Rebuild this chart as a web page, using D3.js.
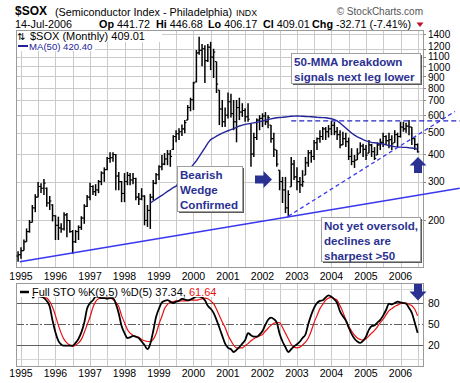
<!DOCTYPE html>
<html><head><meta charset="utf-8">
<script src="https://cdn.jsdelivr.net/npm/d3@7"></script>
<style>
body{margin:0;background:#fff;}
svg{display:block;}
text{font-family:"Liberation Sans",Arial,sans-serif;}
</style></head><body>
<svg id="c" width="460" height="383"></svg>
<script>
// ---------------- DATA ----------------
const firstMonth = "1994-12-01";   // first monthly bar
const opens = [138,
140,146,160,178,196,228,255,285,280,280,240,235,
210,190,185,183,212,200,178,160,178,186,205,232,
255,285,270,275,300,328,340,382,385,398,318,300,
265,300,320,305,310,255,250,258,200,222,255,295,
322,350,360,380,400,420,480,495,505,520,570,650,
705,850,1150,1180,1200,1060,1220,1100,1050,780,640,560,
600,690,610,560,650,620,630,590,550,400,475,570,
580,595,560,541,470,417,338,300,275,228,284,360,
315,300,290,321,365,405,390,450,470,480,520,505,
520,540,505,490,440,470,455,390,370,376,404,435,
420,404,440,410,396,440,452,480,460,465,450,490,
480,530,520,535,530,470,441.72];
const highs = [145,
151,164,184,201,235,263,299,295,308,282,258,237,
211,208,194,218,216,201,181,181,190,209,237,261,
296,289,292,305,334,348,388,408,408,400,332,302,
328,332,328,328,312,266,280,260,235,264,305,328,
356,396,404,417,417,487,513,524,545,570,667,720,
850,1185,1360,1260,1245,1260,1290,1200,1050,780,703,650,
760,750,703,703,720,680,645,680,550,500,580,600,
612,620,600,541,500,417,338,315,315,274,388,376,
348,315,338,388,417,417,463,475,513,530,530,541,
565,560,530,513,505,500,475,425,396,425,452,445,
440,463,445,430,452,470,500,487,500,487,513,500,
560,560,555,570,530,475,446.68];
const lows = [130,
134,146,160,176,196,218,255,266,261,231,223,198,
163,163,176,180,168,176,141,158,163,181,193,230,
247,261,258,266,289,299,338,365,369,274,274,242,
242,289,289,292,247,235,247,190,187,183,247,292,
305,338,356,356,350,417,452,463,483,497,570,625,
633,845,1128,1000,840,1045,960,885,756,541,530,530,
580,586,513,452,570,590,560,560,350,388,463,513,
530,541,524,450,388,350,274,240,216,207,284,305,
274,266,284,321,350,365,376,417,450,463,463,475,
487,487,463,425,439,430,376,356,346,376,404,388,
376,404,388,376,396,417,430,439,425,417,450,430,
475,505,500,487,439,417,406.17];
const closes = [140,
146,160,178,196,228,255,285,280,295,240,245,210,
190,185,183,212,200,178,160,178,186,205,232,255,
285,270,275,300,328,340,382,385,398,318,300,265,
300,320,305,310,255,250,258,200,222,255,295,322,
350,360,380,400,390,480,495,505,520,555,650,705,
840,1150,1180,1200,1060,1220,1100,1160,830,640,560,600,
690,610,560,650,620,630,590,575,400,475,570,580,
595,560,585,470,420,360,300,275,228,262,360,315,
300,290,300,365,405,390,450,470,480,520,505,520,
540,505,490,440,470,455,390,370,375,400,435,420,
395,440,410,382,440,452,480,460,465,445,490,480,
530,520,535,530,470,441.72,409.01];

const maStart = "1998-10-01";      // MA(50) first month
const ma50 = [240,245,250,
255,260,265,271,276,282,286,297,309,321,333,346,
359,373,389,408,427,448,465,473,482,490,498,504,
510,516,522,528,536,541,545,548,551,554,557,561,
565,569,573,577,581,584,586,587,589,591,593,594,
595,594,593,592,591,590,589,587,586,585,584,581,
578,573,565,553,539,525,511,498,487,479,472,465,
459,455,452,450,448,446,444,440,437,434,432,430,
430,429,429,427,426,424,420.40];

const stoKStart = "1995-05-01";
const stoK = [87,90,90,89,87,83,75,55,38,26,21,19,
19,19,19,23,29,38,52,72,80,84,89,89,
87,87,86,87,87,79,65,47,37,30,31,33,
32,30,25,20,14,22,40,60,72,81,83,84,
82,80,82,83,86,85,84,85,87,89,89,88,
84,76,72,66,56,45,33,22,16,14,10,13,
17,22,27,37,34,32,32,35,40,49,56,59,
57,52,36,25,17,10,14,18,21,25,30,35,
50,63,73,80,83,84,88,91,89,85,80,68,
61,55,45,36,29,25,23,26,32,42,47,48,
52,56,62,70,79,78,80,82,81,80,79,73,
66,52,37.34];
const stoDStart = "1995-07-01";
const stoD = [89,89,88,87,82,74,62,48,37,28,23,20,
18,20,23,28,38,49,60,74,82,86,87,87,
87,87,85,81,75,62,52,42,37,34,32,31,
28,26,25,25,28,36,50,61,72,78,81,82,
83,83,83,83,83,84,84,84,85,86,87,86,
83,79,71,62,53,45,34,26,20,16,16,16,
19,22,26,29,31,33,35,40,44,48,51,52,
52,45,37,29,21,17,16,17,20,24,30,40,
52,62,72,78,84,87,88,86,84,76,67,56,
47,40,34,30,28,27,29,33,37,41,46,52,
57,63,69,72,75,77,79,80,80,78,76,71,
61.64];

const priceTicks = [200,300,400,500,600,700,800,900,1000,1100,1200,1400];
const stoLevels = [80,50,20];
const yearLabels = ["1995","1996","1997","1998","1999","2000","2001","2002","2003","2004","2005","2006"];

const supportLine = [["1994-12-20",130],["2007-09-20",280]];
const wedgeLine   = [["2002-10-01",209],["2007-08-01",624]];
const resistLine  = [["2002-11-01",565],["2007-09-20",565]];

const notes = [
  {lines:["50-MMA breakdown","signals next leg lower"], x:291, y:53, w:129, h:30},
  {lines:["Bearish","Wedge","Confirmed"], x:177, y:166, w:65, h:45},
  {lines:["Not yet oversold,","declines are","sharpest >50"], x:321, y:217, w:99, h:44}
];

// ---------------- CHART ----------------
const parse = d3.timeParse("%Y-%m-%d");
const svg = d3.select("#c");
const L = 16, R = 423, mT = 30, mB = 267, sT = 283, sB = 366;
const NAVY = "#2b3192", MA_C = "#23239a", TL = "#3838f0";

const x = d3.scaleTime().domain([new Date(1995,0,1), new Date(2006,0,1)]).range([21, 400.5]);
const y = d3.scaleLog().domain([123,1460]).range([mB, mT]);
const ys = d3.scaleLinear().domain([-10,108.6]).range([sB, sT]);

const months = closes.map((_, i) => d3.timeMonth.offset(parse(firstMonth), i));
const gridDates = d3.timeMonth.every(6).range(new Date(1995,0,1), new Date(2006,7,1));
const r5 = v => Math.round(v) + 0.5;

function panel(top, bot) {
  svg.append("rect").attr("x", L+0.5).attr("y", top+0.5).attr("width", R-L).attr("height", bot-top)
    .attr("fill", "#fff").attr("stroke", "none");
  svg.append("g").selectAll("line").data(gridDates).join("line")
    .attr("x1", d => r5(x(d))).attr("x2", d => r5(x(d)))
    .attr("y1", top).attr("y2", bot).attr("stroke", "#cbcbcb").attr("stroke-width", 1);
}
panel(mT, mB);
panel(sT, sB);

// main horizontal grid + labels
svg.append("g").selectAll("line").data(priceTicks).join("line")
  .attr("x1", L).attr("x2", R).attr("y1", d => r5(y(d))).attr("y2", d => r5(y(d)))
  .attr("stroke", "#cbcbcb");
svg.append("g").selectAll("line").data(priceTicks).join("line")
  .attr("x1", R).attr("x2", R+3).attr("y1", d => r5(y(d))).attr("y2", d => r5(y(d)))
  .attr("stroke", "#888");
// spread crowded labels apart (layout only)
const labPos = priceTicks.map(v => ({v, p: y(v)})).sort((a, b) => a.p - b.p);
for (let it = 0; it < 80; it++) {
  for (let k = 1; k < labPos.length; k++) {
    const gap = labPos[k].p - labPos[k-1].p;
    if (gap < 10.5) { const s = (10.5 - gap) / 2; labPos[k].p += s; labPos[k-1].p -= s; }
  }
  labPos[0].p = Math.max(labPos[0].p, y(1400));
}
svg.append("g").selectAll("text").data(labPos).join("text")
  .attr("x", 428).attr("y", d => d.p).attr("dy", "0.36em")
  .attr("font-size", 10).attr("fill", "#000").text(d => d.v);

// sto horizontal lines
svg.append("g").selectAll("line").data([0,100]).join("line")
  .attr("x1", L).attr("x2", R).attr("y1", d => r5(ys(d))).attr("y2", d => r5(ys(d)))
  .attr("stroke", "#d6d6d6");
svg.append("g").selectAll("line").data(stoLevels).join("line")
  .attr("x1", L).attr("x2", R).attr("y1", d => r5(ys(d))).attr("y2", d => r5(ys(d)))
  .attr("stroke", "#606060").attr("stroke-width", 1.2)
  .attr("stroke-dasharray", d => d === 50 ? "8,2,2,2" : null);
svg.append("g").selectAll("text").data(stoLevels).join("text")
  .attr("x", 428).attr("y", d => ys(d)).attr("dy", "0.36em")
  .attr("font-size", 10.5).text(d => d);

// year labels
yearLabels.forEach(t => {
  const xx = x(new Date(+t, 0, 1));
  [280, 377].forEach(by => svg.append("text").attr("x", xx).attr("y", by)
    .attr("text-anchor", "middle").attr("font-size", 10.5).text(t));
});

// borders
[[mT,mB],[sT,sB]].forEach(([t,b]) => svg.append("rect").attr("x", L+0.5).attr("y", t+0.5)
  .attr("width", R-L).attr("height", b-t).attr("fill", "none").attr("stroke", "#9a9a9a"));

// OHLC bars
const bars = svg.append("g").attr("stroke", "#000");
months.forEach((d, i) => {
  const X = x(d);
  bars.append("line").attr("x1", X).attr("x2", X).attr("y1", y(highs[i])).attr("y2", y(lows[i]))
    .attr("stroke-width", 1.5);
  bars.append("line").attr("x1", X-1.7).attr("x2", X).attr("y1", y(opens[i])).attr("y2", y(opens[i]))
    .attr("stroke-width", 1.1);
  bars.append("line").attr("x1", X).attr("x2", X+1.7).attr("y1", y(closes[i])).attr("y2", y(closes[i]))
    .attr("stroke-width", 1.1);
});

// MA(50)
const maMonths = ma50.map((_, i) => d3.timeMonth.offset(parse(maStart), i));
svg.append("path").datum(ma50.map((v, i) => [maMonths[i], v]))
  .attr("d", d3.line().x(d => x(d[0])).y(d => y(d[1])))
  .attr("fill", "none").attr("stroke", MA_C).attr("stroke-width", 1.4);

// trend lines
const tl = d3.line().x(d => x(parse(d[0]))).y(d => y(d[1]));
svg.append("path").attr("d", tl(supportLine)).attr("stroke", TL).attr("stroke-width", 1.6).attr("fill", "none");
svg.append("path").attr("d", tl(wedgeLine)).attr("stroke", TL).attr("stroke-width", 1.3)
  .attr("stroke-dasharray", "4,3").attr("fill", "none");
svg.append("path").attr("d", tl(resistLine)).attr("stroke", "#2424c8").attr("stroke-width", 1.3)
  .attr("stroke-dasharray", "5,3").attr("fill", "none");

// STO lines
const kMonths = stoK.map((_, i) => d3.timeMonth.offset(parse(stoKStart), i));
const dMonths = stoD.map((_, i) => d3.timeMonth.offset(parse(stoDStart), i));
svg.append("path").datum(stoD.map((v, i) => [dMonths[i], v]))
  .attr("d", d3.line().x(d => x(d[0])).y(d => ys(d[1])).curve(d3.curveMonotoneX))
  .attr("fill", "none").attr("stroke", "#e81010").attr("stroke-width", 1.2);
svg.append("path").datum(stoK.map((v, i) => [kMonths[i], v]))
  .attr("d", d3.line().x(d => x(d[0])).y(d => ys(d[1])).curve(d3.curveMonotoneX))
  .attr("fill", "none").attr("stroke", "#000").attr("stroke-width", 1.8);

// annotation boxes
notes.forEach(n => {
  svg.append("rect").attr("x", n.x+2).attr("y", n.y+2).attr("width", n.w).attr("height", n.h).attr("fill", "#5a5a5a");
  svg.append("rect").attr("x", n.x+0.5).attr("y", n.y+0.5).attr("width", n.w).attr("height", n.h)
    .attr("fill", "#fff").attr("stroke", "#a0a0a0");
  n.lines.forEach((t, k) => svg.append("text").attr("x", n.x+3).attr("y", n.y + 12.5 + k*15)
    .attr("font-size", 11.6).attr("font-weight", "bold").attr("fill", NAVY).text(t));
});

// arrows
svg.append("path").attr("d", "M255,175.5H263.5V171L272,179.5L263.5,188V183.5H255Z").attr("fill", NAVY);
svg.append("path").attr("d", "M418,157L426.5,165.5H422V173H414V165.5H409.5Z").attr("fill", NAVY);
svg.append("path").attr("d", "M414,284H422V291.5H426.5L418,300.5L409.5,291.5H414Z").attr("fill", NAVY);

// legends
svg.append("rect").attr("x", 17).attr("y", 31).attr("width", 145).attr("height", 11).attr("fill", "#fff");
svg.append("rect").attr("x", 17).attr("y", 42).attr("width", 78).attr("height", 9).attr("fill", "#fff");
svg.append("text").attr("x", 17).attr("y", 40).attr("font-family", "DejaVu Sans").attr("font-size", 10).text("⇅");
svg.append("text").attr("x", 30).attr("y", 40).attr("font-family", "DejaVu Sans").attr("font-size", 11)
  .text("$SOX (Monthly) 409.01");
svg.append("line").attr("x1", 18).attr("x2", 28).attr("y1", 46).attr("y2", 46).attr("stroke", MA_C).attr("stroke-width", 2);
svg.append("text").attr("x", 29).attr("y", 49.5).attr("font-size", 9.6).attr("fill", MA_C).text("MA(50) 420.40");

svg.append("rect").attr("x", 17).attr("y", 284).attr("width", 227).attr("height", 13).attr("fill", "#fff");
svg.append("line").attr("x1", 20).attr("x2", 29).attr("y1", 292).attr("y2", 292).attr("stroke", "#000").attr("stroke-width", 2.5);
const sl = svg.append("text").attr("x", 32).attr("y", 296).attr("font-family", "DejaVu Sans").attr("font-size", 11);
sl.append("tspan").text("Full STO %K(9,5) %D(5) 37.34, ");
sl.append("tspan").attr("fill", "#e81010").text("61.64");

// header
svg.append("text").attr("x", 15).attr("y", 15).attr("font-family", "DejaVu Sans").attr("font-weight", "bold")
  .attr("font-size", 12).text("$SOX");
svg.append("text").attr("x", 55).attr("y", 15.5).attr("font-size", 10.8).text("(Semiconductor Index - Philadelphia)");
svg.append("text").attr("x", 236).attr("y", 15.5).attr("font-family", "DejaVu Sans").attr("font-size", 8.8).text("INDX");
svg.append("text").attr("x", 423).attr("y", 15).attr("text-anchor", "end").attr("font-size", 10).attr("fill", "#555")
  .text("© StockCharts.com");
svg.append("text").attr("x", 15).attr("y", 27.8).attr("font-size", 10.8).text("14-Jul-2006");
[["Op","441.72",99],["Hi","446.68",156],["Lo","406.17",208],["Cl","409.01",263],["Chg","-32.71 (-7.41%)",312]]
  .forEach(([lab, val, px]) => {
    const t = svg.append("text").attr("x", px).attr("y", 27.8).attr("font-size", 10.8);
    t.append("tspan").attr("font-weight", "bold").text(lab);
    t.append("tspan").text(" " + val);
  });
svg.append("path").attr("d", "M416.5,22.5H423.5L420,27Z").attr("fill", "#c0102a");
</script>
</body></html>
